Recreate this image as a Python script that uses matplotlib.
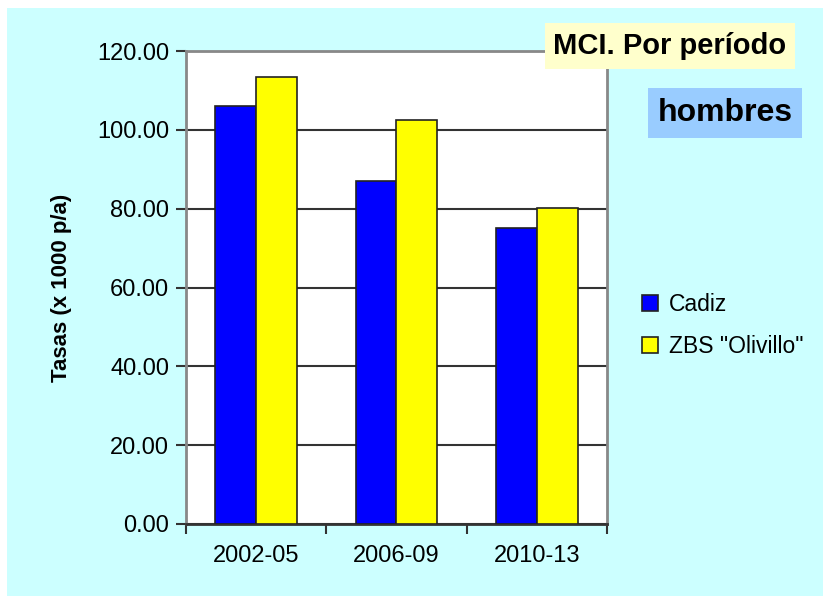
import numpy as np
import matplotlib.pyplot as plt
from matplotlib.patches import Rectangle

plt.rcParams['font.family'] = ['Liberation Sans', 'DejaVu Sans']

# data
periodos = ['2002-05', '2006-09', '2010-13']
cadiz = [106.1, 86.9, 75.0]
olivillo = [113.4, 102.6, 80.1]
series_names = ['Cadiz', 'ZBS "Olivillo"']
yticks = [0, 20, 40, 60, 80, 100, 120]

fig = plt.figure(figsize=(8.23, 5.96), dpi=100, facecolor='white')

# cyan background of the slide
fig.patches.append(Rectangle((7/823, 0), 1 - 7/823, 1 - 8/596,
                             transform=fig.transFigure, facecolor='#CCFFFF',
                             edgecolor='none', zorder=-10))

ax = fig.add_axes([186/823, 1 - 524/596, 421/823, 473/596])
ax.set_facecolor('white')

x = np.arange(len(periodos))
w = 0.292
ax.bar(x - w/2, cadiz, w, color='#0000FF', edgecolor='#222222', linewidth=1.2,
       label=series_names[0], zorder=3)
ax.bar(x + w/2, olivillo, w, color='#FFFF00', edgecolor='#222222', linewidth=1.2,
       label=series_names[1], zorder=3)

ax.set_xlim(-0.5, 2.5)
ax.set_ylim(0, 120)
ax.set_yticks(yticks)
ax.set_yticklabels(['%.2f' % v for v in yticks], fontsize=17)
ax.yaxis.grid(True, color='#333333', linewidth=1.5, zorder=1)
ax.set_axisbelow(True)

ax.set_xticks([-0.5, 0.5, 1.5, 2.5])
ax.set_xticklabels([])
ax.set_xticks(x, minor=True)
ax.set_xticklabels(periodos, minor=True, fontsize=17)
ax.tick_params(axis='x', which='minor', length=0, pad=15)
ax.tick_params(axis='x', which='major', length=7, width=1.5, color='#333333')
ax.tick_params(axis='y', length=7, width=1.5, color='#333333', pad=5)

for s in ax.spines.values():
    s.set_color('#888888')
    s.set_linewidth(2)
ax.spines['bottom'].set_color('#333333')

ax.set_ylabel('Tasas (x 1000 p/a)', fontsize=16, fontweight='bold', labelpad=18)

leg = ax.legend(loc='center left', bbox_to_anchor=(1.033, 0.42), frameon=False,
                fontsize=16.5, handlelength=0.7, handleheight=0.7,
                handletextpad=0.5, labelspacing=0.85)

fig.text(670/823, 1 - 46/596, 'MCI. Por período', fontsize=21, fontweight='bold',
         ha='center', va='center',
         bbox=dict(boxstyle='square,pad=0.3', facecolor='#FFFFCC', edgecolor='none'))
fig.text(725/823, 1 - 113/596, 'hombres', fontsize=23, fontweight='bold',
         ha='center', va='center',
         bbox=dict(boxstyle='square,pad=0.3', facecolor='#99CCFF', edgecolor='none'))

fig.savefig('out.png', dpi=100)
